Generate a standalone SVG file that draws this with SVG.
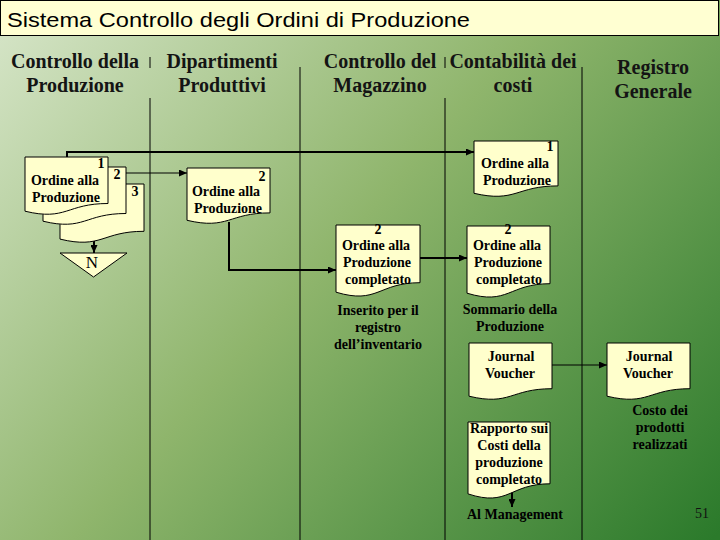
<svg xmlns="http://www.w3.org/2000/svg" width="720" height="540" viewBox="0 0 720 540">
<defs>
<linearGradient id="bg" gradientUnits="userSpaceOnUse" x1="0" y1="40" x2="640" y2="620">
<stop offset="0" stop-color="#d3e3c4"/>
<stop offset="0.45" stop-color="#8fb56c"/>
<stop offset="1" stop-color="#2b7a2b"/>
</linearGradient>
<marker id="ah" markerUnits="userSpaceOnUse" markerWidth="8" markerHeight="7" refX="8" refY="3.5" orient="auto">
<path d="M0,0 L8,3.5 L0,7 Z" fill="#000"/>
</marker>
<style>
.doc{fill:#ffffcc;stroke:#000;stroke-width:1}
.t{font-family:"Liberation Serif","Times New Roman",serif;font-weight:bold;font-size:14px;fill:#000;text-anchor:middle}
.h{font-family:"Liberation Serif","Times New Roman",serif;font-weight:bold;font-size:20px;fill:#141414;text-anchor:middle}
.lane{stroke:#000;stroke-width:1}
.c1{fill:none;stroke:#000;stroke-width:1;marker-end:url(#ah)}
.c2{fill:none;stroke:#000;stroke-width:2;marker-end:url(#ah)}
</style>
</defs>
<rect x="0" y="0" width="720" height="540" fill="url(#bg)"/>
<g id="title">
<rect x="0.5" y="0.5" width="718" height="35" fill="#ffffd2" stroke="#000" stroke-width="1"/>
<text x="7" y="27" font-family="'Liberation Sans', Arial, sans-serif" font-size="21" fill="#000" textLength="463" lengthAdjust="spacingAndGlyphs">Sistema Controllo degli Ordini di Produzione</text>
</g>
<g id="lanes">
<line class="lane" x1="150" y1="57" x2="150" y2="68"/>
<line class="lane" x1="150" y1="98" x2="150" y2="540"/>
<line class="lane" x1="300" y1="67" x2="300" y2="540"/>
<line class="lane" x1="445" y1="57" x2="445" y2="68"/>
<line class="lane" x1="445" y1="98" x2="445" y2="540"/>
<line class="lane" x1="582" y1="67" x2="582" y2="540"/>
</g>
<g id="headers">
<text class="h" x="75" y="68">Controllo della</text>
<text class="h" x="75" y="92">Produzione</text>
<text class="h" x="222" y="68">Dipartimenti</text>
<text class="h" x="222" y="92">Produttivi</text>
<text class="h" x="380" y="68">Controllo del</text>
<text class="h" x="380" y="92">Magazzino</text>
<text class="h" x="513" y="68">Contabilità dei</text>
<text class="h" x="513" y="92">costi</text>
<text class="h" x="653" y="74">Registro</text>
<text class="h" x="653" y="98">Generale</text>
</g>
<g id="connectors">
<path class="c2" d="M67,157 V152 H474"/>
<path class="c1" d="M126,173 H187"/>
<path class="c2" d="M229,222 V270 H336"/>
<path class="c2" d="M420,258 H467"/>
<path class="c1" d="M552,365 H607"/>
<path class="c2" d="M512,476 V507"/>
<path class="c2" d="M94,241 V253"/>
</g>
<g id="stack3">
<path class="doc" d="M60,184 H144 V231.3 C102,231.3 102,249.3 60,239.1 Z"/>
<text class="t" x="135" y="196">3</text>
</g>
<g id="stack2">
<path class="doc" d="M43,167 H126 V213.5 C84.5,213.5 84.5,231.2 43,221.2 Z"/>
<text class="t" x="117" y="179">2</text>
</g>
<g id="stack1">
<path class="doc" d="M25,157 H108 V203.5 C66.5,203.5 66.5,221.2 25,211.2 Z"/>
<text class="t" x="101" y="168">1</text>
<text class="t" x="65" y="185">Ordine alla</text>
<text class="t" x="66" y="202">Produzione</text>
</g>
<g id="n-file">
<path d="M60,253 H127 L93.5,277 Z" fill="#ffffcc" stroke="#000" stroke-width="1"/>
<text x="92" y="268" font-family="'Liberation Serif','Times New Roman',serif" font-size="17" text-anchor="middle" fill="#000">N</text>
</g>
<g id="dip-ordine">
<path class="doc" d="M187,168 H270 V212.9 C228.5,212.9 228.5,230 187,220.3 Z"/>
<text class="t" x="262" y="181">2</text>
<text class="t" x="226" y="196">Ordine alla</text>
<text class="t" x="228" y="213">Produzione</text>
</g>
<g id="mag-ordine">
<path class="doc" d="M336,225 H420 V282.7 C378,282.7 378,304.7 336,292.2 Z"/>
<text class="t" x="378" y="234">2</text>
<text class="t" x="376" y="250">Ordine alla</text>
<text class="t" x="377" y="267">Produzione</text>
<text class="t" x="378" y="284">completato</text>
</g>
<g id="mag-inserito">
<text class="t" x="378" y="315">Inserito per il</text>
<text class="t" x="378" y="332">registro</text>
<text class="t" x="378" y="349">dell’inventario</text>
</g>
<g id="cont-ordine1">
<path class="doc" d="M474,141 H558 V185.9 C516,185.9 516,203 474,193.3 Z"/>
<text class="t" x="550" y="151">1</text>
<text class="t" x="515" y="168">Ordine alla</text>
<text class="t" x="517" y="185">Produzione</text>
</g>
<g id="cont-ordine2">
<path class="doc" d="M467,226 H550 V283.7 C508.5,283.7 508.5,305.7 467,293.2 Z"/>
<text class="t" x="508" y="234">2</text>
<text class="t" x="507" y="250">Ordine alla</text>
<text class="t" x="508" y="267">Produzione</text>
<text class="t" x="509" y="284">completato</text>
</g>
<g id="cont-sommario">
<text class="t" x="510" y="314">Sommario della</text>
<text class="t" x="510" y="331">Produzione</text>
</g>
<g id="cont-jv">
<path class="doc" d="M469,343 H552 V388.7 C510.5,388.7 510.5,406.1 469,396.2 Z"/>
<text class="t" x="511" y="361">Journal</text>
<text class="t" x="510" y="378">Voucher</text>
</g>
<g id="reg-jv">
<path class="doc" d="M607,343 H690 V388.7 C648.5,388.7 648.5,406.1 607,396.2 Z"/>
<text class="t" x="649" y="361">Journal</text>
<text class="t" x="648" y="378">Voucher</text>
</g>
<g id="reg-costo">
<text class="t" x="660" y="415">Costo dei</text>
<text class="t" x="660" y="432">prodotti</text>
<text class="t" x="660" y="449">realizzati</text>
</g>
<g id="cont-rapporto">
<path class="doc" d="M468,422 H550 V483.8 C509,483.8 509,507.3 468,493.9 Z"/>
<text class="t" x="509" y="433">Rapporto sui</text>
<text class="t" x="509" y="450">Costi della</text>
<text class="t" x="509" y="467">produzione</text>
<text class="t" x="509" y="484">completato</text>
</g>
<g id="management">
<text class="t" x="515" y="519">Al Management</text>
</g>
<text x="702" y="518" font-family="'Liberation Serif','Times New Roman',serif" font-size="14" text-anchor="middle" fill="#111">51</text>
</svg>
